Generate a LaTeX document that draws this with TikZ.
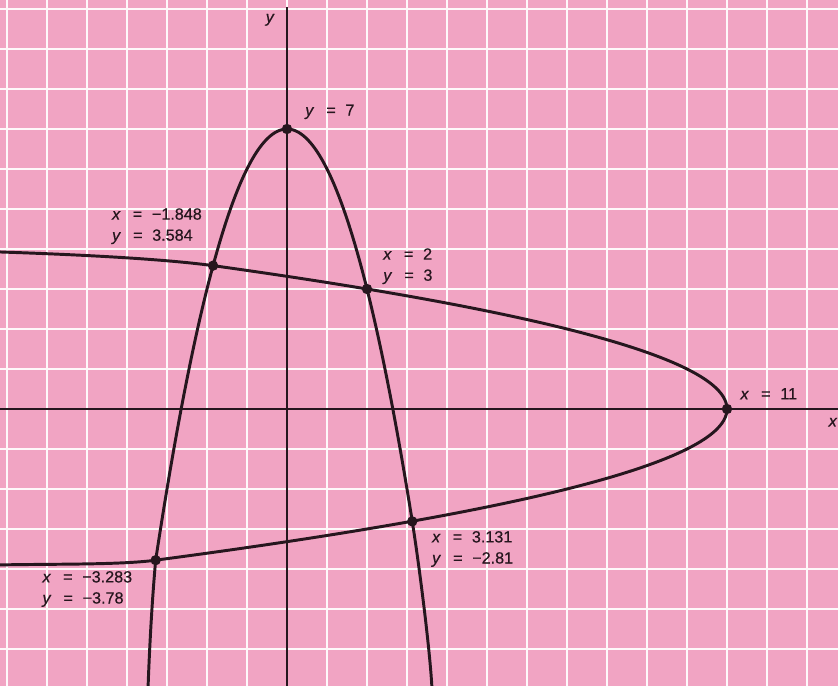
\documentclass[tikz,border=0pt]{standalone}
\usepackage{fontspec}
\setmainfont{Liberation Sans}[FakeBold=0.6]
\usetikzlibrary{calc}
\definecolor{paperpink}{RGB}{241,164,195}
\definecolor{inkdark}{RGB}{38,22,30}
\newcommand{\eqlabel}[2]{\textit{#1}\hspace{.75em}=\hspace{.6em}#2}

\begin{document}
\begin{tikzpicture}[x=1cm,y=1cm,every node/.style={font=\fontsize{11.5}{15}\selectfont,text=inkdark,inner sep=0pt},
  curve/.style={inkdark,line width=2.1pt},
  label/.style={anchor=west,align=left}]
\useasboundingbox (-7.175,-6.925) rectangle (13.775,10.225);
\fill[paperpink] (-7.175,-6.925) rectangle (13.775,10.225);
\draw[white!92!paperpink,line width=1.1pt] (-7.175,-6.925) grid (13.775,10.225);
% axes
\draw[inkdark,line width=.8pt] (-7.175,0)--(13.775,0);
\draw[inkdark,line width=.8pt] (0,-6.925)--(0,10.05);
\node (xlab) at (13.65,-0.33) {\textit{x}};
\node (ylab) at (-0.42,9.73) {\textit{y}};
% intersection points
\coordinate (top) at (0,7);
\coordinate (tip) at (11,0);
\coordinate (pa) at (2,3);
\coordinate (pb) at (-1.848,3.584);
\coordinate (pc) at (3.131,-2.81);
\coordinate (pd) at (-3.283,-3.78);
% the two parabolas
\begin{scope}
\clip (-7.175,-6.925) rectangle (13.775,10.225);
\draw[curve] plot[domain=-3.283:3.131,samples=100,smooth] (\x,{7-\x*\x});
\draw[curve] (pd) .. controls +(-0.09,-1) and +(0.04,1.1) .. (-3.475,-7);
\draw[curve] (pc) .. controls +(0.16,-1) and +(-0.05,1) .. (3.625,-7);
\draw[curve] plot[domain=-3.78:3.584,samples=100,smooth] ({11-\x*\x},\x);
\draw[curve] (pb) .. controls +(-1.5,0.2) and +(1.5,-0.05) .. (-7.3,3.93);
\draw[curve] (pd) .. controls +(-0.9,-0.12) and +(1.5,0.03) .. (-7.3,-3.9);
\end{scope}
\foreach \p in {top,tip,pa,pb,pc,pd}{\fill[inkdark] (\p) circle(3.7pt);}
\node[label] (ltop) at (0.45,7.43) {\eqlabel{y}{7}};
\node[label] (ltip) at (11.33,0.38) {\eqlabel{x}{11}};
\node[label] (lpa) at (2.4,3.57) {\eqlabel{x}{2}\\\eqlabel{y}{3}};
\node[label] (lpb) at (-4.38,4.57) {\eqlabel{x}{−1.848}\\\eqlabel{y}{3.584}};
\node[label] (lpc) at (3.62,-3.5) {\eqlabel{x}{3.131}\\\eqlabel{y}{−2.81}};
\node[label] (lpd) at (-6.12,-4.5) {\eqlabel{x}{−3.283}\\\eqlabel{y}{−3.78}};
\end{tikzpicture}
\end{document}
